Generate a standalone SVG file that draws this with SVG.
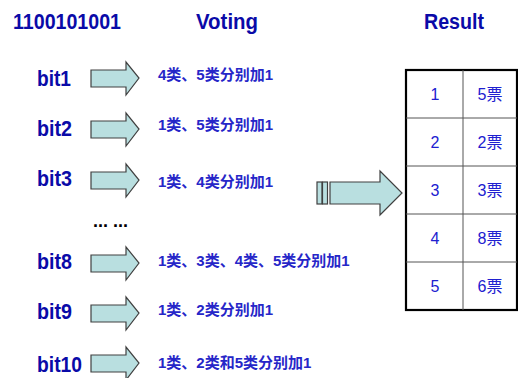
<svg xmlns="http://www.w3.org/2000/svg" width="518" height="378" viewBox="0 0 518 378">
  <style>
    .hdr { font-family: "Liberation Sans", Arial, sans-serif; font-weight: bold; font-size: 22px; fill: #0a0aa8; }
    .bit { font-family: "Liberation Sans", Arial, sans-serif; font-weight: bold; font-size: 22px; fill: #0a0aa8; }
    .rule { font-family: "Liberation Sans", "Noto Sans CJK SC", sans-serif; font-size: 15px; fill: #2626c8; font-weight: bold; }
    .cell { font-family: "Liberation Sans", "Noto Sans CJK SC", sans-serif; font-size: 16px; fill: #2020d0; text-anchor: middle; }
    .arrow { fill: #b9dfe0; stroke: #404040; stroke-width: 1.2; }
  </style>
  <defs>
    <!-- block arrow, origin at left edge of the shaft, vertical centre -->
    <path id="blk" d="M0,-8 H35 V-16 L48,0 L35,17 V9 H0 Z"/>
  </defs>

  <rect width="518" height="378" fill="#ffffff"/>

  <!-- column headings -->
  <text class="hdr" x="13" y="29" textLength="108" lengthAdjust="spacingAndGlyphs">1100101001</text>
  <text class="hdr" x="196" y="29" textLength="62" lengthAdjust="spacingAndGlyphs">Voting</text>
  <text class="hdr" x="424" y="29" textLength="60" lengthAdjust="spacingAndGlyphs">Result</text>

  <g id="bit1">
    <text class="bit" x="37" y="86" textLength="34" lengthAdjust="spacingAndGlyphs">bit1</text>
    <use href="#blk" class="arrow" x="91" y="78"/>
    <text class="rule" x="158" y="80">4类、5类分别加1</text>
  </g>
  <g id="bit2">
    <text class="bit" x="37" y="136" textLength="35" lengthAdjust="spacingAndGlyphs">bit2</text>
    <use href="#blk" class="arrow" x="91" y="129"/>
    <text class="rule" x="158" y="130">1类、5类分别加1</text>
  </g>
  <g id="bit3">
    <text class="bit" x="37" y="186" textLength="35" lengthAdjust="spacingAndGlyphs">bit3</text>
    <use href="#blk" class="arrow" x="91" y="180"/>
    <text class="rule" x="158" y="187">1类、4类分别加1</text>
  </g>
  <g id="ellipsis">
    <text class="bit" x="93" y="227" style="font-size:18px;fill:#000">... ...</text>
  </g>
  <g id="bit8">
    <text class="bit" x="37" y="269" textLength="35" lengthAdjust="spacingAndGlyphs">bit8</text>
    <use href="#blk" class="arrow" x="91" y="263"/>
    <text class="rule" x="158" y="266">1类、3类、4类、5类分别加1</text>
  </g>
  <g id="bit9">
    <text class="bit" x="37" y="319" textLength="35" lengthAdjust="spacingAndGlyphs">bit9</text>
    <use href="#blk" class="arrow" x="91" y="313"/>
    <text class="rule" x="158" y="315">1类、2类分别加1</text>
  </g>
  <g id="bit10">
    <text class="bit" x="37" y="372" textLength="45" lengthAdjust="spacingAndGlyphs">bit10</text>
    <use href="#blk" class="arrow" x="91" y="363"/>
    <text class="rule" x="158" y="368">1类、2类和5类分别加1</text>
  </g>

  <!-- aggregate arrow into the result table -->
  <g id="connectors">
    <rect class="arrow" x="317" y="182" width="5" height="22"/>
    <rect class="arrow" x="322.5" y="182" width="5" height="22"/>
    <path class="arrow" d="M330,182 H380 V171 L402,193 L380,215 V204 H330 Z"/>
  </g>

  <g id="result">
    <rect x="406" y="70" width="111" height="240" fill="#fff" stroke="#000" stroke-width="2.2"/>
    <g stroke="#555" stroke-width="1">
      <line x1="463" y1="70" x2="463" y2="310"/>
      <line x1="406" y1="118" x2="517" y2="118"/>
      <line x1="406" y1="166" x2="517" y2="166"/>
      <line x1="406" y1="214" x2="517" y2="214"/>
      <line x1="406" y1="262" x2="517" y2="262"/>
    </g>
    <text class="cell" x="435" y="100">1</text><text class="cell" x="490" y="100">5票</text>
    <text class="cell" x="435" y="148">2</text><text class="cell" x="490" y="148">2票</text>
    <text class="cell" x="435" y="196">3</text><text class="cell" x="490" y="196">3票</text>
    <text class="cell" x="435" y="244">4</text><text class="cell" x="490" y="244">8票</text>
    <text class="cell" x="435" y="292">5</text><text class="cell" x="490" y="292">6票</text>
  </g>
</svg>
